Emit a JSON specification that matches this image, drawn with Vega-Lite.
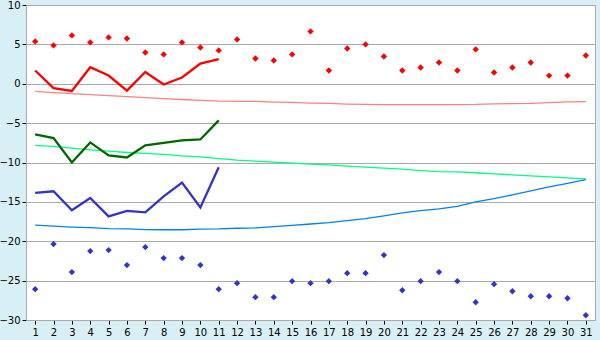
{
  "$schema": "https://vega.github.io/schema/vega-lite/v6.json",
  "width": 569,
  "height": 315,
  "autosize": {"type": "none"},
  "padding": {"left": 26, "top": 5, "right": 5, "bottom": 20},
  "background": "#d8eff5",
  "config": {
    "view": {"fill": "white", "stroke": "#aaaaaa", "strokeWidth": 1},
    "axis": {"labelFont": "DejaVu Sans", "labelFontSize": 10, "labelColor": "#000000", "domainColor": "#aaaaaa", "tickColor": "#000000", "tickSize": 4, "title": null, "gridColor": "#aaaaaa", "gridWidth": 1}
  },
  "data": {"values": [
    {"day":1,"rmax":5.38,"r":1.68,"rn":-0.96,"g":-6.43,"gn":-7.83,"b":-13.86,"bn":-17.94,"bmin":-26.09},
    {"day":2,"rmax":4.87,"r":-0.55,"rn":-1.12,"g":-6.9,"gn":-7.96,"b":-13.65,"bn":-18.07,"bmin":-20.36},
    {"day":3,"rmax":6.14,"r":-0.92,"rn":-1.25,"g":-10.0,"gn":-8.17,"b":-16.07,"bn":-18.2,"bmin":-23.92},
    {"day":4,"rmax":5.25,"r":2.1,"rn":-1.38,"g":-7.45,"gn":-8.4,"b":-14.5,"bn":-18.28,"bmin":-21.25},
    {"day":5,"rmax":5.88,"r":1.04,"rn":-1.5,"g":-9.1,"gn":-8.56,"b":-16.84,"bn":-18.4,"bmin":-21.12},
    {"day":6,"rmax":5.75,"r":-0.87,"rn":-1.63,"g":-9.36,"gn":-8.73,"b":-16.15,"bn":-18.42,"bmin":-23.03},
    {"day":7,"rmax":3.97,"r":1.5,"rn":-1.76,"g":-7.83,"gn":-8.85,"b":-16.33,"bn":-18.52,"bmin":-20.74},
    {"day":8,"rmax":3.72,"r":-0.1,"rn":-1.89,"g":-7.5,"gn":-8.98,"b":-14.3,"bn":-18.54,"bmin":-22.14},
    {"day":9,"rmax":5.25,"r":0.79,"rn":-2.0,"g":-7.2,"gn":-9.15,"b":-12.55,"bn":-18.54,"bmin":-22.14},
    {"day":10,"rmax":4.6,"r":2.57,"rn":-2.1,"g":-7.07,"gn":-9.28,"b":-15.7,"bn":-18.45,"bmin":-23.03},
    {"day":11,"rmax":4.23,"r":3.12,"rn":-2.2,"g":-4.65,"gn":-9.5,"b":-10.6,"bn":-18.43,"bmin":-26.09},
    {"day":12,"rmax":5.63,"rn":-2.23,"gn":-9.7,"bn":-18.35,"bmin":-25.32},
    {"day":13,"rmax":3.21,"rn":-2.25,"gn":-9.83,"bn":-18.3,"bmin":-27.1},
    {"day":14,"rmax":2.95,"rn":-2.33,"gn":-9.96,"bn":-18.15,"bmin":-27.1},
    {"day":15,"rmax":3.72,"rn":-2.37,"gn":-10.09,"bn":-17.98,"bmin":-25.07},
    {"day":16,"rmax":6.65,"rn":-2.45,"gn":-10.21,"bn":-17.81,"bmin":-25.32},
    {"day":17,"rmax":1.68,"rn":-2.5,"gn":-10.3,"bn":-17.64,"bmin":-25.07},
    {"day":18,"rmax":4.48,"rn":-2.58,"gn":-10.47,"bn":-17.39,"bmin":-24.05},
    {"day":19,"rmax":4.99,"rn":-2.63,"gn":-10.6,"bn":-17.13,"bmin":-24.05},
    {"day":20,"rmax":3.46,"rn":-2.65,"gn":-10.72,"bn":-16.79,"bmin":-21.76},
    {"day":21,"rmax":1.68,"rn":-2.65,"gn":-10.85,"bn":-16.4,"bmin":-26.22},
    {"day":22,"rmax":2.06,"rn":-2.65,"gn":-11.02,"bn":-16.11,"bmin":-25.07},
    {"day":23,"rmax":2.7,"rn":-2.65,"gn":-11.15,"bn":-15.9,"bmin":-23.92},
    {"day":24,"rmax":1.68,"rn":-2.65,"gn":-11.2,"bn":-15.56,"bmin":-25.07},
    {"day":25,"rmax":4.36,"rn":-2.63,"gn":-11.3,"bn":-15.0,"bmin":-27.75},
    {"day":26,"rmax":1.43,"rn":-2.55,"gn":-11.44,"bn":-14.6,"bmin":-25.45},
    {"day":27,"rmax":2.06,"rn":-2.52,"gn":-11.57,"bn":-14.1,"bmin":-26.35},
    {"day":28,"rmax":2.7,"rn":-2.5,"gn":-11.7,"bn":-13.6,"bmin":-26.98},
    {"day":29,"rmax":1.04,"rn":-2.4,"gn":-11.82,"bn":-13.1,"bmin":-26.98},
    {"day":30,"rmax":1.04,"rn":-2.3,"gn":-11.95,"bn":-12.64,"bmin":-27.24},
    {"day":31,"rmax":3.59,"rn":-2.27,"gn":-12.08,"bn":-12.17,"bmin":-29.4}
  ]},
  "encoding": {
    "x": {"field": "day", "type": "quantitative",
      "scale": {"domain": [0.5, 31.5], "nice": false, "zero": false},
      "axis": {"values": [1,2,3,4,5,6,7,8,9,10,11,12,13,14,15,16,17,18,19,20,21,22,23,24,25,26,27,28,29,30,31], "grid": false, "labelPadding": 3, "labelFlush": false, "labelOverlap": false}}
  },
  "layer": [
    {"mark": {"type": "line", "color": "#ff8080", "strokeWidth": 1.3},
     "encoding": {"y": {"field": "rn", "type": "quantitative", "scale": {"domain": [-30, 10], "nice": false, "zero": false},
       "axis": {"values": [-30,-25,-20,-15,-10,-5,0,5,10], "grid": true, "labelPadding": 2, "labelOverlap": false}}}},
    {"mark": {"type": "line", "color": "#00ff80", "strokeWidth": 1.3}, "encoding": {"y": {"field": "gn", "type": "quantitative", "axis": {"values": [-30,-25,-20,-15,-10,-5,0,5,10], "grid": true, "labelPadding": 2, "labelOverlap": false}}}},
    {"mark": {"type": "line", "color": "#0080ff", "strokeWidth": 1.3}, "encoding": {"y": {"field": "bn", "type": "quantitative", "axis": {"values": [-30,-25,-20,-15,-10,-5,0,5,10], "grid": true, "labelPadding": 2, "labelOverlap": false}}}},
    {"mark": {"type": "line", "color": "#ff0000", "strokeWidth": 2.3}, "encoding": {"y": {"field": "r", "type": "quantitative", "axis": {"values": [-30,-25,-20,-15,-10,-5,0,5,10], "grid": true, "labelPadding": 2, "labelOverlap": false}}}},
    {"mark": {"type": "line", "color": "#006600", "strokeWidth": 2.3}, "encoding": {"y": {"field": "g", "type": "quantitative", "axis": {"values": [-30,-25,-20,-15,-10,-5,0,5,10], "grid": true, "labelPadding": 2, "labelOverlap": false}}}},
    {"mark": {"type": "line", "color": "#3333cc", "strokeWidth": 2.3}, "encoding": {"y": {"field": "b", "type": "quantitative", "axis": {"values": [-30,-25,-20,-15,-10,-5,0,5,10], "grid": true, "labelPadding": 2, "labelOverlap": false}}}},
    {"mark": {"type": "point", "shape": "diamond", "filled": true, "opacity": 1, "size": 40, "color": "#ff0000"}, "encoding": {"y": {"field": "rmax", "type": "quantitative", "axis": {"values": [-30,-25,-20,-15,-10,-5,0,5,10], "grid": true, "labelPadding": 2, "labelOverlap": false}}}},
    {"mark": {"type": "point", "shape": "diamond", "filled": true, "opacity": 1, "size": 40, "color": "#3333cc"}, "encoding": {"y": {"field": "bmin", "type": "quantitative", "axis": {"values": [-30,-25,-20,-15,-10,-5,0,5,10], "grid": true, "labelPadding": 2, "labelOverlap": false}}}}
  ]
}
